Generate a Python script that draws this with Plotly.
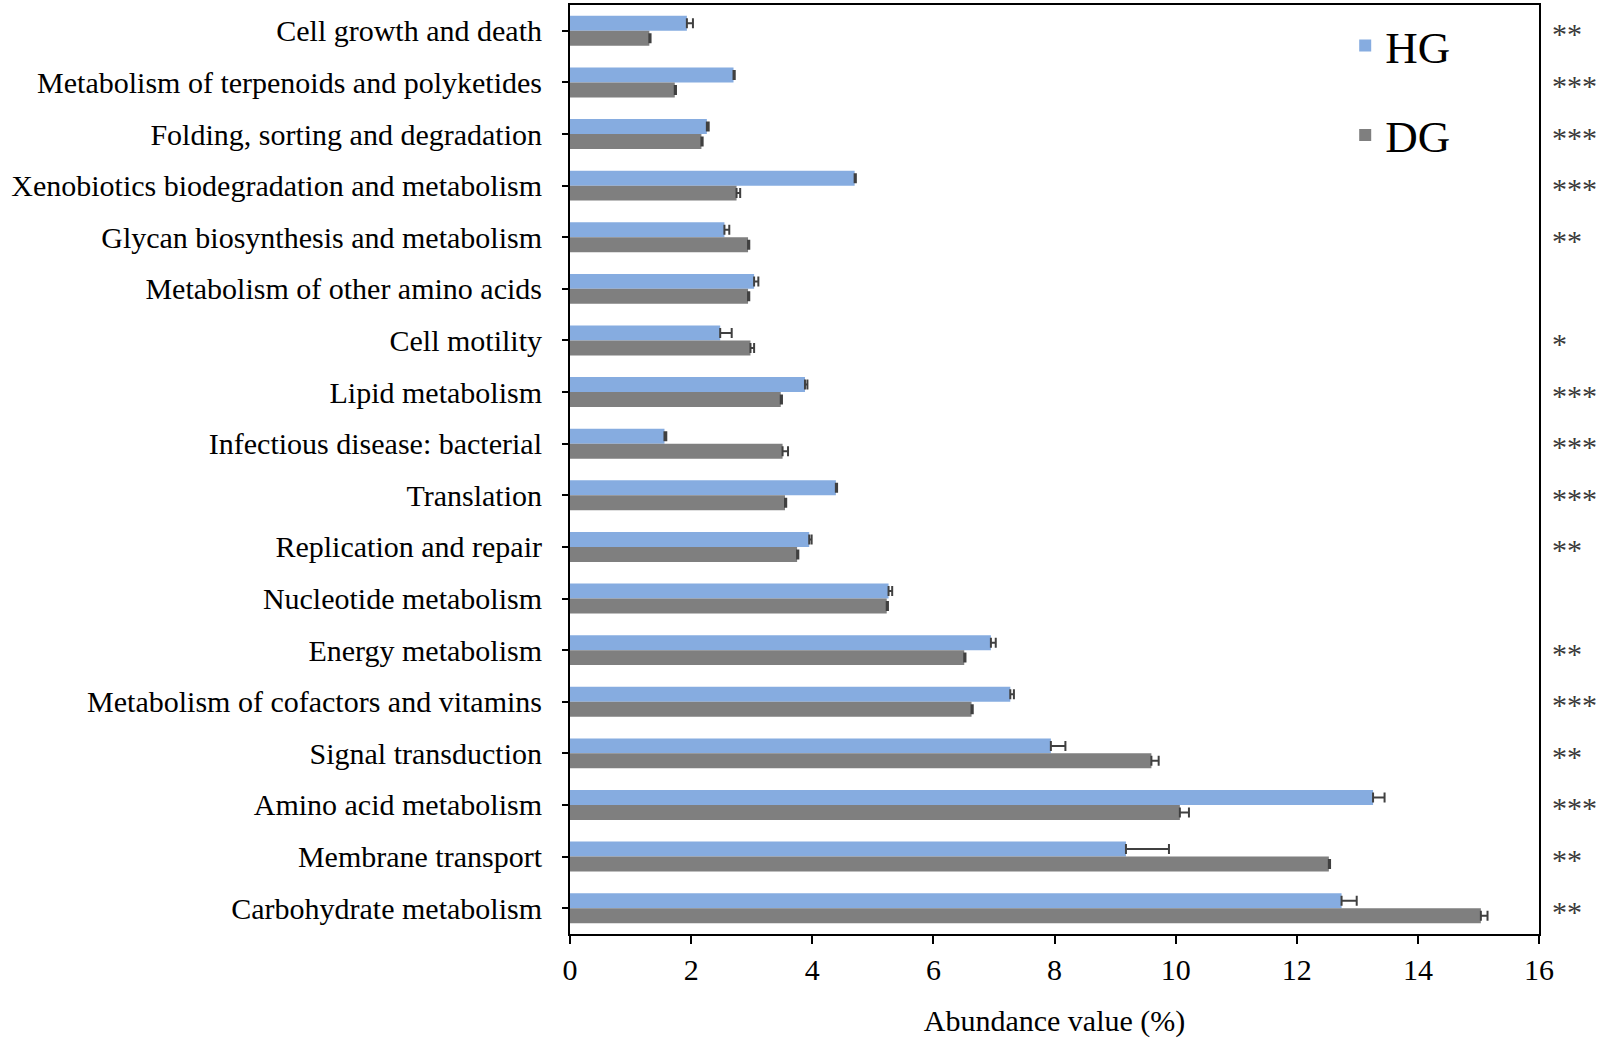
import plotly.graph_objects as go

categories = [
    "Cell growth and death",
    "Metabolism of terpenoids and polyketides",
    "Folding, sorting and degradation",
    "Xenobiotics biodegradation and metabolism",
    "Glycan biosynthesis and metabolism",
    "Metabolism of other amino acids",
    "Cell motility",
    "Lipid metabolism",
    "Infectious disease: bacterial",
    "Translation",
    "Replication and repair",
    "Nucleotide metabolism",
    "Energy metabolism",
    "Metabolism of cofactors and vitamins",
    "Signal transduction",
    "Amino acid metabolism",
    "Membrane transport",
    "Carbohydrate metabolism",
]

hg_values = [1.93, 2.70, 2.26, 4.70, 2.55, 3.04, 2.48, 3.88, 1.56, 4.39, 3.95, 5.26, 6.95, 7.27, 7.94, 13.26, 9.18, 12.74]
hg_err = [0.10, 0.02, 0.03, 0.02, 0.08, 0.07, 0.19, 0.04, 0.03, 0.02, 0.04, 0.06, 0.08, 0.06, 0.24, 0.19, 0.71, 0.25]

dg_values = [1.31, 1.73, 2.17, 2.75, 2.94, 2.94, 2.98, 3.48, 3.51, 3.55, 3.75, 5.23, 6.51, 6.63, 9.60, 10.07, 12.53, 15.04]
dg_err = [0.02, 0.02, 0.02, 0.06, 0.02, 0.02, 0.06, 0.02, 0.09, 0.02, 0.02, 0.02, 0.02, 0.02, 0.12, 0.15, 0.02, 0.11]

significance = ["**", "***", "***", "***", "**", "", "*", "***", "***", "***", "**", "", "**", "***", "**", "***", "**", "**"]

x_ticks = [0, 2, 4, 6, 8, 10, 12, 14, 16]

HG_COLOR = "#86ACE0"
DG_COLOR = "#7F7F7F"
ERR_COLOR = "#404040"
FONT = "Liberation Serif, Times New Roman, serif"

fig = go.Figure()
fig.add_trace(go.Bar(
    name="HG", y=categories, x=hg_values, orientation="h",
    marker=dict(color=HG_COLOR, line=dict(width=0)),
    error_x=dict(type="data", symmetric=False, array=hg_err, arrayminus=[0] * len(hg_err),
                 color=ERR_COLOR, thickness=2, width=5),
    legendgroup="HG",
))
fig.add_trace(go.Bar(
    name="DG", y=categories, x=dg_values, orientation="h",
    marker=dict(color=DG_COLOR, line=dict(width=0)),
    error_x=dict(type="data", symmetric=False, array=dg_err, arrayminus=[0] * len(dg_err),
                 color=ERR_COLOR, thickness=2, width=5),
    legendgroup="DG",
))

for cat, sig in zip(categories, significance):
    if sig:
        fig.add_annotation(
            x=1.011, xref="paper", xanchor="left",
            y=cat, yref="y", yanchor="middle", yshift=-3,
            text=sig, showarrow=False,
            font=dict(family=FONT, size=30, color="#3A3A3A"),
        )

fig.update_layout(
    width=1600, height=1040,
    margin=dict(l=570, r=61, t=3, b=106),
    paper_bgcolor="white", plot_bgcolor="white",
    barmode="group", bargap=0.42, bargroupgap=0,
    font=dict(family=FONT, size=30, color="black"),
    showlegend=True,
    legend=dict(
        x=0.80, y=0.995, xanchor="left", yanchor="top",
        font=dict(family=FONT, size=45, color="black"),
        bgcolor="rgba(0,0,0,0)", tracegroupgap=28, traceorder="grouped",
    ),
    xaxis=dict(
        range=[0, 16], tickvals=x_ticks, ticktext=[str(v) for v in x_ticks],
        showgrid=False, zeroline=False,
        showline=True, mirror=True, linecolor="black", linewidth=2,
        ticks="outside", ticklen=8, tickwidth=2, tickcolor="black",
        tickfont=dict(family=FONT, size=30, color="black"),
        title=dict(text="Abundance value (%)", font=dict(family=FONT, size=30, color="black"), standoff=25),
    ),
    yaxis=dict(
        type="category", autorange="reversed",
        showgrid=False, zeroline=False,
        showline=True, mirror=True, linecolor="black", linewidth=2,
        ticks="outside", ticklen=6, tickwidth=2, tickcolor="black",
        tickfont=dict(family=FONT, size=30, color="black"),
        ticklabelstandoff=14,
    ),
)

fig.write_html("out.html", config={"displayModeBar": False},
               post_script="document.body.style.margin='0px';")
